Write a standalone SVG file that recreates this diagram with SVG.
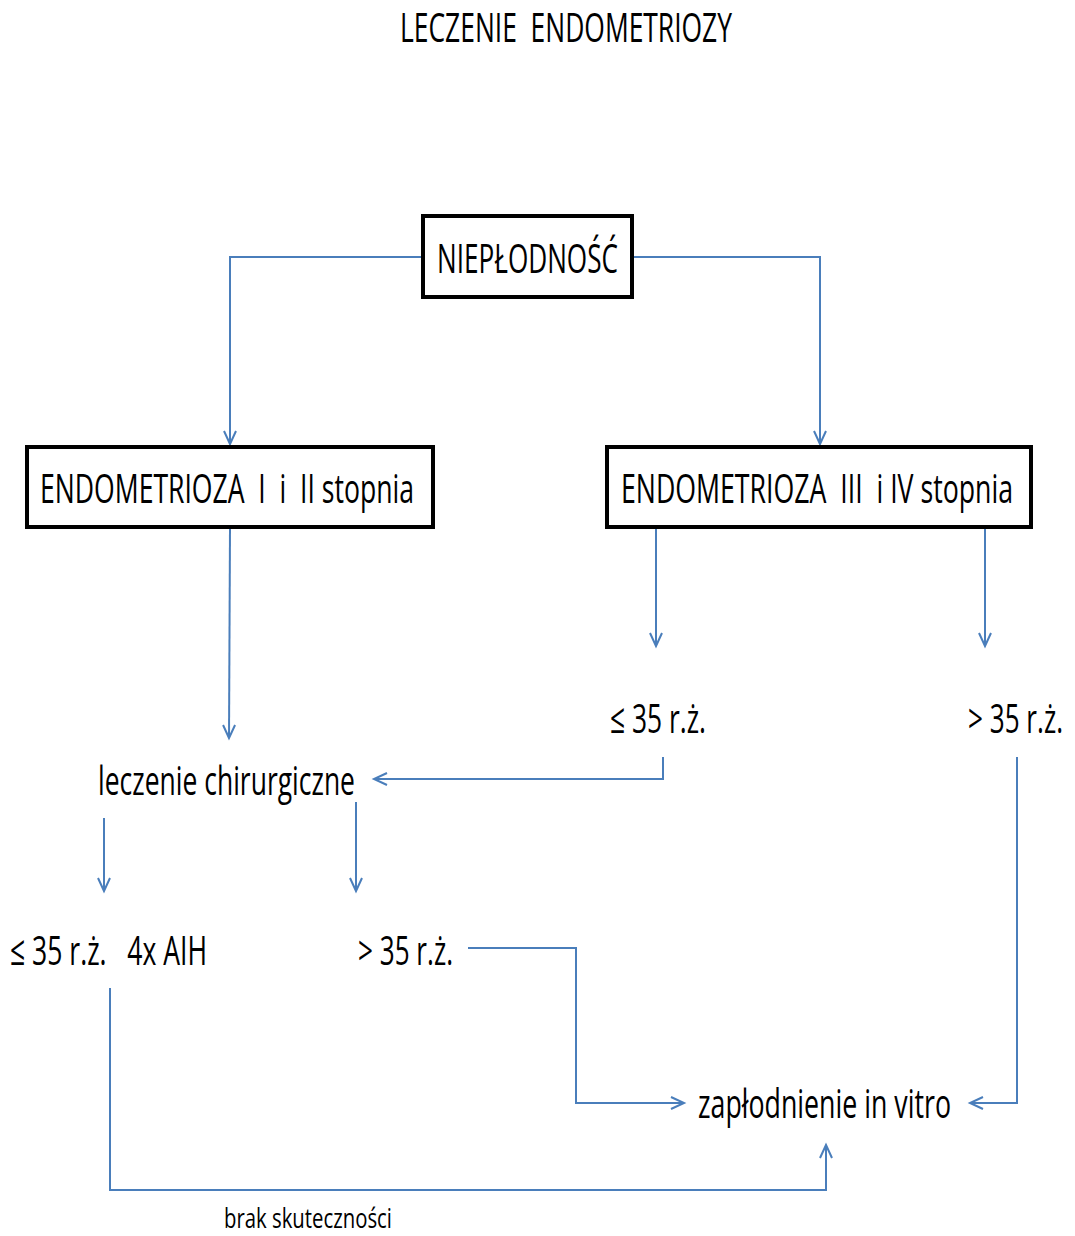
<svg xmlns="http://www.w3.org/2000/svg" width="1075" height="1236" viewBox="0 0 1075 1236">
<style>
text{font-family:"Open Sans","Liberation Sans",sans-serif;font-size:41px;fill:#000;white-space:pre}
.small{font-size:28px}
.box{fill:#fff;stroke:#000;stroke-width:4}
.conn{fill:none;stroke:#4a7ebb;stroke-width:2}
.arr{marker-end:url(#ah)}
</style>
<defs>
<marker id="ah" markerUnits="userSpaceOnUse" viewBox="-15 -8 17 16" refX="0" refY="0" markerWidth="17" markerHeight="16" orient="auto" overflow="visible">
<path d="M-13,-6 L0,0 L-13,6" fill="none" stroke="#4a7ebb" stroke-width="2"/>
</marker>
</defs>
<rect width="1075" height="1236" fill="#fff"/>
<text x="400" y="42" textLength="332" lengthAdjust="spacingAndGlyphs">LECZENIE  ENDOMETRIOZY</text>
<g id="connectors">
<path class="conn arr" d="M423,257 H230 V444"/>
<path class="conn arr" d="M632,257 H820 V444"/>
<path class="conn arr" d="M230,528 L229,738"/>
<path class="conn arr" d="M656,528 V646"/>
<path class="conn arr" d="M985,528 V646"/>
<path class="conn arr" d="M663,757 V779 H374"/>
<path class="conn arr" d="M104,818 V891"/>
<path class="conn arr" d="M356,802 V891"/>
<path class="conn arr" d="M468,948 H576 V1103 H684"/>
<path class="conn arr" d="M1017,757 V1103 H970"/>
<path class="conn arr" d="M110,988 V1190 H826 V1145"/>
</g>
<g id="n-nieplodnosc">
<rect class="box" x="423" y="216" width="209" height="81"/>
<text x="437" y="273" textLength="181" lengthAdjust="spacingAndGlyphs">NIEPŁODNOŚĆ</text>
</g>
<g id="n-endo12">
<rect class="box" x="27" y="447" width="406" height="80"/>
<text x="40" y="503" textLength="374" lengthAdjust="spacingAndGlyphs">ENDOMETRIOZA  I  i  II stopnia</text>
</g>
<g id="n-endo34">
<rect class="box" x="607" y="447" width="424" height="80"/>
<text x="621" y="503" textLength="392" lengthAdjust="spacingAndGlyphs">ENDOMETRIOZA  III  i IV stopnia</text>
</g>
<g id="n-le35-a">
<text x="610" y="733" textLength="96" lengthAdjust="spacingAndGlyphs">≤ 35 r.ż.</text>
</g>
<g id="n-gt35-a">
<text x="968" y="733" textLength="95" lengthAdjust="spacingAndGlyphs">&gt; 35 r.ż.</text>
</g>
<g id="n-leczenie">
<text x="98" y="795" textLength="257" lengthAdjust="spacingAndGlyphs">leczenie chirurgiczne</text>
</g>
<g id="n-le35-b">
<text x="10" y="965" textLength="197" lengthAdjust="spacingAndGlyphs">≤ 35 r.ż.   4x AIH</text>
</g>
<g id="n-gt35-b">
<text x="358" y="965" textLength="95" lengthAdjust="spacingAndGlyphs">&gt; 35 r.ż.</text>
</g>
<g id="n-ivf">
<text x="698" y="1118" textLength="253" lengthAdjust="spacingAndGlyphs">zapłodnienie in vitro</text>
</g>
<g id="l-brak">
<text class="small" x="224" y="1228" textLength="168" lengthAdjust="spacingAndGlyphs">brak skuteczności</text>
</g>
</svg>
